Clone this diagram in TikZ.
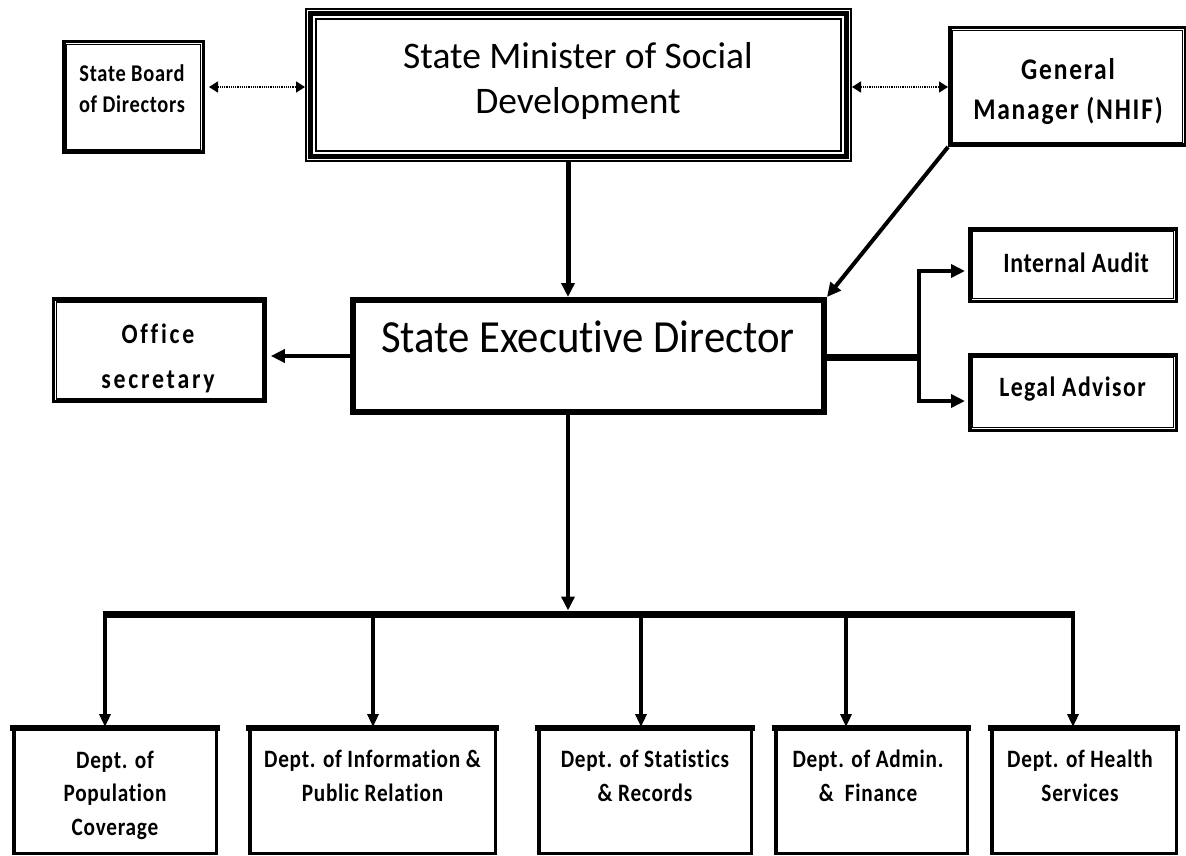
\documentclass[tikz,border=0pt]{standalone}
\usepackage{fontspec}
\setmainfont{Carlito}[Ligatures=NoCommon]
\newfontfamily\regf[FakeStretch=0.93,Ligatures=NoCommon]{Carlito}
\newfontfamily\regw[FakeStretch=1.0,Ligatures=NoCommon]{Carlito}
\newfontfamily\boldf[FakeStretch=0.85,Ligatures=NoCommon]{Carlito}
\newcommand\bfsz[3]{\boldf\bfseries\addfontfeature{LetterSpace=#3}\fontsize{#1pt}{#2pt}\selectfont}
\usetikzlibrary{arrows.meta}
\begin{document}
\begin{tikzpicture}[x=1pt,y=-1pt,
  dbox/.style={draw, line width=3.5pt, inner sep=0pt},
  tbox/.style={draw, line width=2pt, inner sep=0pt},
  sbox/.style={draw, line width=6pt, inner sep=0pt},
  dept/.style={draw, line width=3.5pt, inner sep=0pt, minimum height=124.5pt},
  innerline/.style={line width=1.5pt},
  txt/.style={align=center, inner sep=0pt},
  dotarr/.style={line width=1.6pt, dash pattern=on 1.2pt off 1pt,
    {Triangle[length=9pt,width=11pt]}-{Triangle[length=9pt,width=11pt]}},
  arr/.style={line width=4pt, -{Triangle[length=14pt,width=13pt]}},
  darr/.style={line width=3.2pt, -{Triangle[length=13pt,width=11pt]}},
]
\useasboundingbox (0,0) rectangle (1186,856);

% boxes
\node[tbox, minimum width=545pt, minimum height=152pt] (minister) at (578.5,85) {};
\node[dbox, minimum width=139.5pt, minimum height=110.5pt] (board) at (133.5,97) {};
\node[dbox, minimum width=235.5pt, minimum height=117.5pt] (gm) at (1067.5,86.5) {};
\node[sbox, minimum width=471pt, minimum height=112pt] (sed) at (588.5,356) {};
\node[dbox, minimum width=211.5pt, minimum height=102.5pt] (office) at (159.3,350.3) {};
\node[dbox, minimum width=206.5pt, minimum height=72.5pt] (ia) at (1073,265) {};
\node[dbox, minimum width=206.5pt, minimum height=75.5pt] (la) at (1073,392.5) {};
\node[dept, minimum width=202.5pt] (d1) at (115,791) {};
\node[dept, minimum width=245.5pt] (d2) at (372.5,791) {};
\node[dept, minimum width=212.5pt] (d3) at (645,791) {};
\node[dept, minimum width=191.5pt] (d4) at (871.5,791) {};
\node[dept, minimum width=184.5pt] (d5) at (1084,791) {};

\foreach \n in {board,gm,office,ia,la}
  \draw[innerline] ([shift={(4.5,4.5)}]\n.north west) rectangle ([shift={(-4.5,-4.5)}]\n.south east);
\draw[line width=4.5pt] ([shift={(5.5,5.5)}]minister.north west) rectangle ([shift={(-5.5,-5.5)}]minister.south east);
\draw[innerline] ([shift={(11,11)}]minister.north west) rectangle ([shift={(-11,-11)}]minister.south east);
\foreach \i in {1,...,5}
  \draw[line width=5.5pt] ([xshift=-1.75pt,yshift=-0.75pt]d\i.north west) -- ([xshift=1.75pt,yshift=-0.75pt]d\i.north east);

% texts
\node[txt, font=\regw\fontsize{37.5pt}{45pt}\selectfont] (mintxt) at (578,81) {State Minister of Social\\Development};
\node[txt, font=\regf\fontsize{46pt}{50pt}\selectfont] (sedtxt) at (588,337) {State Executive Director};
\node[txt, font=\bfsz{24}{31}{3}] (boardtxt) at (132,89) {State Board\\of Directors};
\node[txt, font=\bfsz{30}{40}{6}] (gmtxt) at (1068,92) {General\\Manager (NHIF)};
\node[txt, font=\bfsz{28}{45}{10}] (officetxt) at (158,358) {Office\\secretary};
\node[txt, font=\bfsz{28}{34}{2.5}] (iatxt) at (1076,263) {Internal Audit};
\node[txt, font=\bfsz{28}{34}{5}] (latxt) at (1072.5,389.5) {Legal Advisor};
\node[txt, font=\bfsz{25}{33.5}{3}] (d1txt) at (115,795) {Dept. of\\Population\\Coverage};
\node[txt, font=\bfsz{25}{33.5}{3}] (d2txt) at (372.5,776) {Dept. of Information \&\\Public Relation};
\node[txt, font=\bfsz{25}{33.5}{3}] (d3txt) at (645,776) {Dept. of Statistics\\\& Records};
\node[txt, font=\bfsz{25}{33.5}{3}] (d4txt) at (868,776) {Dept. of Admin.\\\&\ \ Finance};
\node[txt, font=\bfsz{25}{33.5}{3}] (d5txt) at (1080,776) {Dept. of Health\\Services};

% connector coordinates
\coordinate (cx) at (568,0);
\coordinate (ay) at (0,87);
\coordinate (barL) at (103,614);
\coordinate (barR) at (1075,614);
\coordinate (jr) at (919,357);
\coordinate (ja) at (919,271);
\coordinate (jl) at (919,401);

% connectors
\draw[dotarr] ([xshift=4pt]board.east |- ay) -- (minister.west |- ay);
\draw[dotarr] (minister.east |- ay) -- (gm.west |- ay);
\draw[arr, line width=5pt] (minister.south -| cx) -- (sed.north -| cx);
\draw[arr] (gm.south west) -- (sed.north east);
\draw[arr] (sed.west) -- ([xshift=4pt]office.east |- sed.west);
\draw[line width=7pt] (sed.east |- jr) -- (jr);
\draw[arr, line join=miter] (jr) |- ([xshift=-3pt]ia.west |- ja);
\draw[arr, line join=miter] (jr) |- ([xshift=-3pt]la.west |- jl);
\draw[arr] (sed.south -| cx) -- ([yshift=3.5pt]cx |- barL);
\draw[line width=7pt] (barL) -- (barR);
\foreach \x/\n in {105/d1, 373/d2, 641/d3, 846/d4, 1073/d5}
  \draw[darr] (\x,614) -- (\x,0 |- \n.north);
\end{tikzpicture}
\end{document}
